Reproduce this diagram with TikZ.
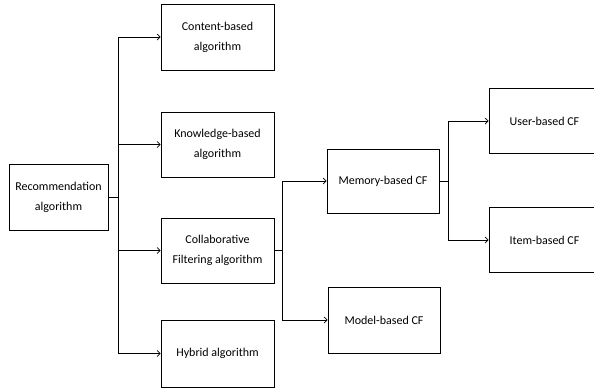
\documentclass[tikz,border=0pt]{standalone}
\usepackage{fontspec}
\setmainfont{Carlito}
\usetikzlibrary{arrows.meta,positioning}

\begin{document}
\begin{tikzpicture}[
    x=1pt, y=-1pt,
    box/.style={rectangle, draw, line width=0.8pt, minimum width=113pt,
                minimum height=66pt, align=center, inner sep=2pt,
                font=\fontsize{12}{20}\selectfont},
    arrow/.style={-{Straight Barb[length=3pt,width=6pt]}, line width=0.7pt},
    link/.style={line width=0.7pt}
]
\useasboundingbox (0,0) rectangle (594,389);
\clip (0,0) rectangle (594,389);
% Nodes
\node[box, minimum width=99pt] (rec) at (58.5,197) {Recommendation\\algorithm};
\node[box] (content) at (217.5,37) {Content-based\\algorithm};
\node[box, minimum height=65pt] (know) at (217.5,144.5) {Knowledge-based\\algorithm};
\node[box, minimum height=65pt] (collab) at (217.5,250.5) {Collaborative\\Filtering algorithm};
\node[box, minimum height=67pt] (hybrid) at (217.5,353.5) {Hybrid algorithm};
\node[box, minimum width=112pt, minimum height=64pt] (memory) at (383,181) {Memory-based CF};
\node[box, minimum width=112pt] (model) at (384,320) {Model-based CF};
\node[box, minimum width=111pt, minimum height=65pt] (user) at (544.5,121) {User-based CF};
\node[box, minimum width=111pt, minimum height=65pt] (item) at (544.5,240) {Item-based CF};

% Branch points
\coordinate (t1) at (118,197);
\coordinate (t2) at (282,250.5);
\coordinate (t3) at (448,181);

% Arrows
\draw[link] (rec) -- (t1);
\draw[arrow] (t1) |- (content);
\draw[arrow] (t1) |- (know);
\draw[arrow] (t1) |- (collab);
\draw[arrow] (t1) |- (hybrid);
\draw[link] (collab) -- (t2);
\draw[arrow] (t2) |- (memory);
\draw[arrow] (t2) |- (model);
\draw[link] (memory) -- (t3);
\draw[arrow] (t3) |- (user);
\draw[arrow] (t3) |- (item);
\end{tikzpicture}
\end{document}
